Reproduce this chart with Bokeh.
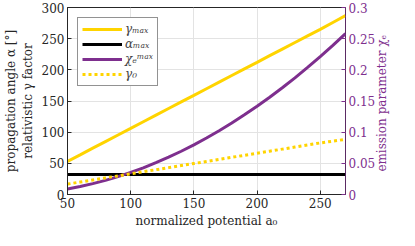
import math
from bokeh.plotting import figure
from bokeh.models import (Range1d, LinearAxis, FixedTicker, CustomJSTickFormatter,
                          Legend, LegendItem)
from bokeh.embed import file_html
from bokeh.resources import INLINE

# ---- data ----
a0 = [50, 60, 70, 80, 90, 100, 110, 120, 130, 140, 150, 160, 170, 180, 190,
      200, 210, 220, 230, 240, 250, 260, 270]
gamma_max = [53, 63.6, 74.3, 84.9, 95.5, 106, 116.7, 127.3, 137.9, 148.5, 159, 169.7,
             180.3, 190.9, 201.5, 212, 222.7, 233.3, 243.9, 254.5, 265, 276, 287]
alpha_max = [32] * 23
chi_max = [0.0089, 0.0127, 0.0174, 0.0227, 0.0287, 0.0354, 0.0428, 0.0510, 0.0598,
           0.0694, 0.0796, 0.0906, 0.1023, 0.1147, 0.1278, 0.1416, 0.1561, 0.1713,
           0.1872, 0.2039, 0.2212, 0.2393, 0.258]
gamma_0 = [16.7, 20.0, 23.3, 26.6, 29.9, 33.2, 36.5, 39.8, 43.1, 46.4, 49.7, 53.0,
           56.3, 59.6, 62.9, 66.2, 69.5, 72.8, 76.1, 79.4, 82.7, 85.6, 88.5]

x_ticks = [50, 100, 150, 200, 250]
y_ticks = [0, 50, 100, 150, 200, 250, 300]
chi_ticks = [0, 0.05, 0.1, 0.15, 0.2, 0.25, 0.3]

YELLOW = "#FFD400"
PURPLE = "#7E2F8E"
DARK = "#262626"
FONT = "DejaVu Serif"

p = figure(width=399, height=230, output_backend="svg", toolbar_location=None,
           x_range=Range1d(50, 270), y_range=Range1d(0, 300),
           min_border_left=56, min_border_right=49, min_border_top=7, min_border_bottom=33)
p.extra_y_ranges = {"chi": Range1d(0, 0.3)}

p.outline_line_color = DARK
p.outline_line_width = 1
p.background_fill_color = "white"
p.border_fill_color = "white"

for ax in (p.xaxis[0], p.yaxis[0]):
    ax.major_tick_in = 4
    ax.major_tick_out = 0
    ax.minor_tick_line_color = None
    ax.major_tick_line_color = DARK
    ax.axis_line_color = DARK
    ax.major_label_text_font = FONT
    ax.major_label_text_font_size = "12px"
    ax.major_label_text_color = DARK
    ax.axis_label_text_font = FONT
    ax.axis_label_text_font_size = "12px"
    ax.axis_label_text_font_style = "normal"
    ax.axis_label_text_color = DARK

p.xaxis[0].ticker = FixedTicker(ticks=x_ticks)
p.yaxis[0].ticker = FixedTicker(ticks=y_ticks)
p.xaxis[0].axis_label = "normalized potential a₀"
p.yaxis[0].axis_label = "propagation angle α [°]\nrelativistic γ factor"
p.xaxis[0].major_label_standoff = 3
p.yaxis[0].major_label_standoff = 3
p.xaxis[0].axis_label_standoff = 3
p.yaxis[0].axis_label_standoff = 4

p.xgrid[0].grid_line_color = "#e3e3e3"
p.ygrid[0].grid_line_color = "#e3e3e3"

# right axis; its title reads bottom-to-top as in the reference
rax = LinearAxis(y_range_name="chi", ticker=FixedTicker(ticks=chi_ticks),
                 formatter=CustomJSTickFormatter(code="return String(Number(tick.toFixed(3)));"),
                 axis_label="\u00a0\u00a0\u00a0\u00a0\u00a0\u00a0emission parameter χₑ")
rax.major_tick_in = 4
rax.major_tick_out = 0
rax.minor_tick_line_color = None
rax.major_tick_line_color = PURPLE
rax.axis_line_color = PURPLE
rax.axis_line_alpha = 0.6
rax.major_label_text_font = FONT
rax.major_label_text_font_size = "12px"
rax.major_label_text_color = PURPLE
rax.major_label_standoff = 3
rax.axis_label_text_font = FONT
rax.axis_label_text_font_size = "12px"
rax.axis_label_text_font_style = "normal"
rax.axis_label_text_color = PURPLE
rax.axis_label_orientation = math.pi / 2
rax.axis_label_align = "start"
rax.axis_label_standoff = 4
p.add_layout(rax, "right")

r1 = p.line(a0, gamma_max, line_color=YELLOW, line_width=3)
r2 = p.line(a0, alpha_max, line_color="black", line_width=3)
r3 = p.line(a0, chi_max, line_color=PURPLE, line_width=3, y_range_name="chi")
r4 = p.line(a0, gamma_0, line_color=YELLOW, line_width=3, line_dash="3 3")

legend = Legend(items=[
    LegendItem(label="γₘₐₓ", renderers=[r1]),
    LegendItem(label="αₘₐₓ", renderers=[r2]),
    LegendItem(label="χₑᵐᵃˣ", renderers=[r3]),
    LegendItem(label="γ₀", renderers=[r4]),
], location="top_left")
legend.label_text_font = FONT
legend.label_text_font_size = "12px"
legend.label_text_font_style = "italic"
legend.label_standoff = 3
legend.label_height = 14
legend.glyph_width = 40
legend.glyph_height = 14
legend.spacing = 1
legend.padding = 4
legend.margin = 10
legend.border_line_color = DARK
legend.border_line_width = 1
legend.background_fill_color = "white"
legend.background_fill_alpha = 1
p.add_layout(legend, "center")

open("out.html", "w").write(file_html(p, INLINE))
